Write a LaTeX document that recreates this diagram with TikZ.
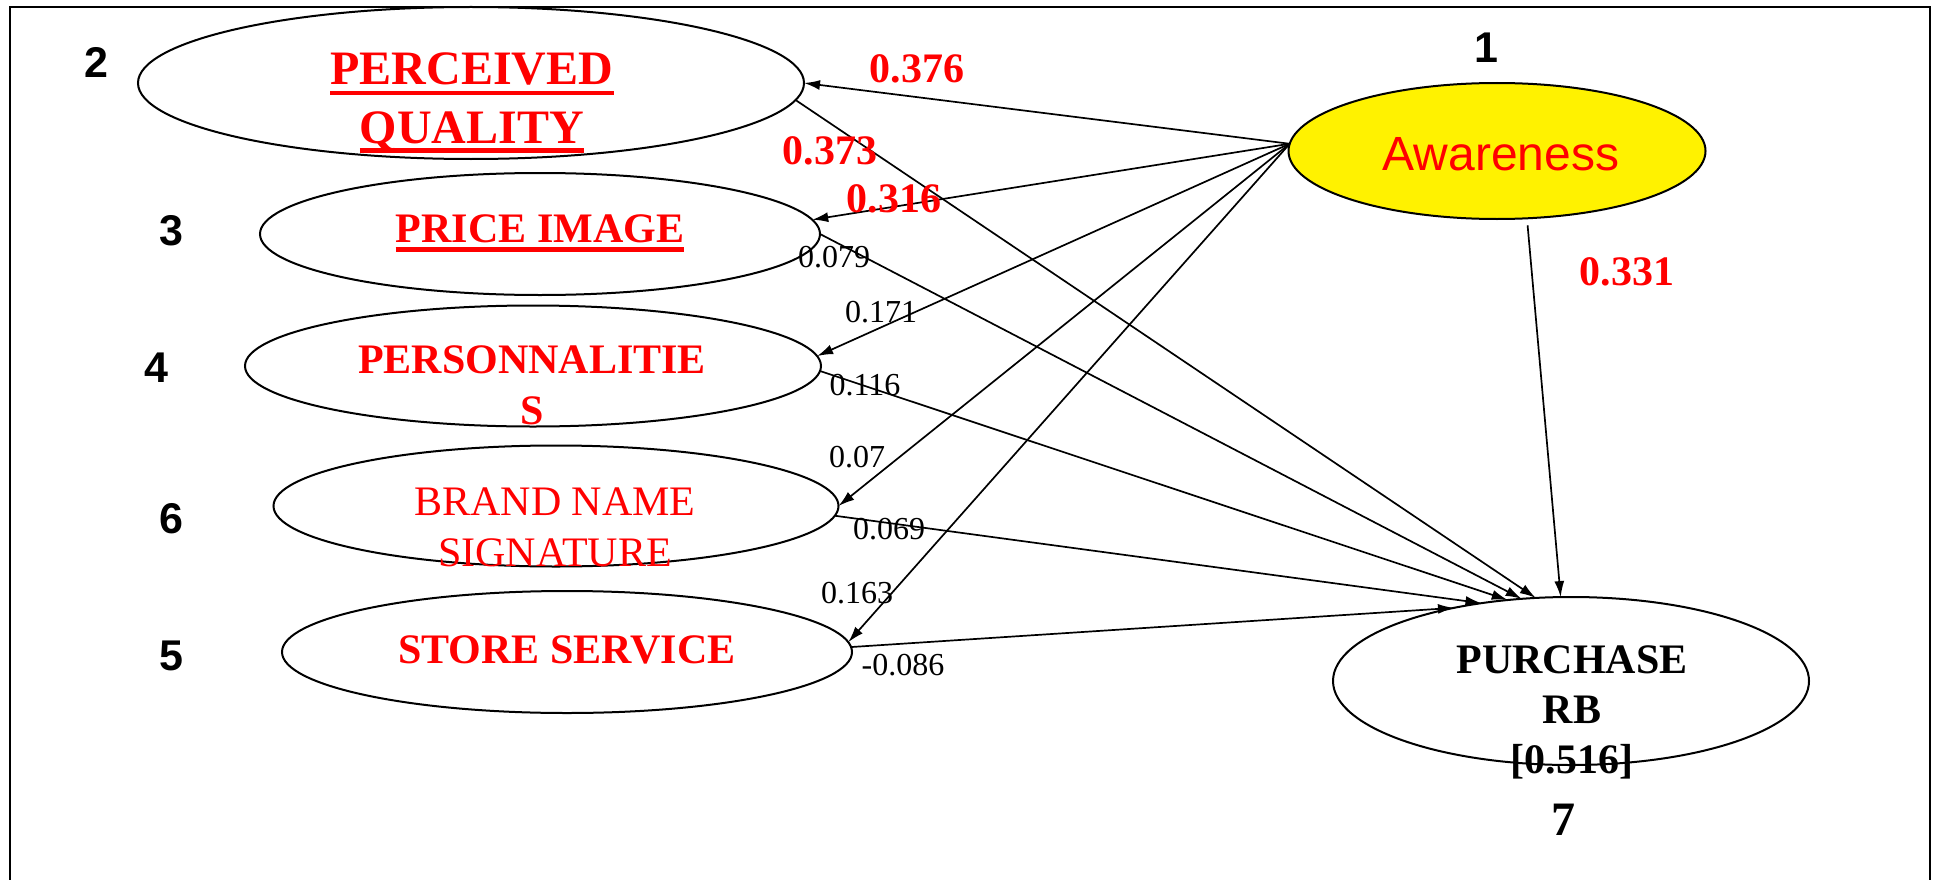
\documentclass[tikz,border=0pt]{standalone}
\usepackage{fontspec}
\setmainfont{Liberation Serif}
\newfontfamily\arialf{Liberation Sans}
\usetikzlibrary{arrows.meta,shapes.geometric}
\begin{document}
\begin{tikzpicture}[x=1pt,y=-1pt,
  ell/.style={draw, ellipse, line width=2pt, inner sep=0pt, outer sep=0pt},
  conn/.style={line width=1.7pt, -{Latex[length=16pt,width=10pt]}},
  txt/.style={inner sep=0pt, anchor=base},
  redbigB/.style={txt, text=red, font=\fontsize{48}{58}\selectfont\bfseries},
  redB/.style={txt, text=red, font=\fontsize{42}{50}\selectfont\bfseries},
  redR/.style={txt, text=red, font=\fontsize{42}{50}\selectfont},
  blkB/.style={txt, font=\fontsize{42}{50}\selectfont\bfseries},
  wlab/.style={txt, font=\fontsize{32}{38}\selectfont},
  num/.style={txt, font=\arialf\bfseries\fontsize{43}{50}\selectfont},
  uline/.style={red, line width=4.8pt}
]
\useasboundingbox (0,0) rectangle (1934,880);
\fill[white] (0,0) rectangle (1934,880);
\draw[line width=2.5pt] (10,885) -- (10,7) -- (1930,7) -- (1930,885);

% ellipses
\node[ell, minimum width=666pt, minimum height=152pt] (pq) at (471,83) {};
\node[ell, minimum width=560pt, minimum height=122pt] (price) at (540,234) {};
\node[ell, minimum width=576pt, minimum height=121pt] (pers) at (533,366) {};
\node[ell, minimum width=565pt, minimum height=121pt] (brand) at (556,506) {};
\node[ell, minimum width=570pt, minimum height=122pt] (store) at (567,652) {};
\node[ell, fill=yellow, minimum width=417pt, minimum height=136pt] (aw) at (1497,151) {};
\node[ell, minimum width=476pt, minimum height=168pt] (purch) at (1571,681) {};

% ellipse texts
\node[redbigB] (pqa) at (472,85) {PERCEIVED};
\node[redbigB] (pqb) at (472,143) {QUALITY};
\draw[uline] ([yshift=-8pt]pqa.base west) -- ([yshift=-8pt]pqa.base east);
\draw[uline] ([yshift=-7.5pt]pqb.base west) -- ([yshift=-7.5pt]pqb.base east);
\node[redB] (pra) at (540,242) {PRICE IMAGE};
\draw[red, line width=4.5pt] ([yshift=-7.5pt]pra.base west) -- ([yshift=-7.5pt]pra.base east);
\node[redB] (pea) at (532,373) {PERSONNALITIE};
\node[redB] (peb) at (532,424) {S};
\node[redR] (bra) at (555,515) {BRAND NAME};
\node[redR] (brb) at (555,566) {SIGNATURE};
\node[redB] (sta) at (567,663) {STORE SERVICE};
\node[txt, text=red, font=\arialf\fontsize{48}{56}\selectfont] (awa) at (1501,170) {Awareness};
\node[blkB] (pua) at (1572,673) {PURCHASE};
\node[blkB] (pub) at (1572,723) {RB};
\node[blkB] (puc) at (1572,773) {[0.516]};

% construct numbers
\node[num] (n1) at (1486,63) {1};
\node[num] (n2) at (96,78) {2};
\node[num] (n3) at (171,245) {3};
\node[num] (n4) at (156,382) {4};
\node[num] (n6) at (171,533) {6};
\node[num] (n5) at (171,670) {5};
\node[txt, font=\fontsize{48}{56}\selectfont\bfseries] (n7) at (1563,835) {7};

% connectors
\draw[conn] (aw.178) -- (pq.east);
\draw[conn] (aw.178) -- (price.3);
\draw[conn] (aw.178) -- (pers.2.5);
\draw[conn] (aw.178) -- (brand.east);
\draw[conn] (aw.178) -- (store.2.5);
\draw[conn] (pq.-3) -- (purch.113);
\draw[conn] (price.east) -- (purch.121);
\draw[conn] (pers.-1) -- (purch.128);
\draw[conn] (brand.-2) -- (purch.139);
\draw[conn] (store.1.5) -- (purch.148);
\draw[conn, shorten <=7pt] (aw.-66) -- (purch.97);

% weights
\node[redB] (w1) at (917,83) {0.376};
\node[redB] (w2) at (830,164) {0.373};
\node[redB] (w3) at (894,212) {0.316};
\node[redB] (w4) at (1627,285) {0.331};
\node[wlab] (w5) at (834,267) {0.079};
\node[wlab] (w6) at (881,322) {0.171};
\node[wlab] (w7) at (865,395) {0.116};
\node[wlab] (w8) at (857,467) {0.07};
\node[wlab] (w9) at (889,539) {0.069};
\node[wlab] (w10) at (857,603) {0.163};
\node[wlab] (w11) at (903,675) {-0.086};
\end{tikzpicture}
\end{document}
